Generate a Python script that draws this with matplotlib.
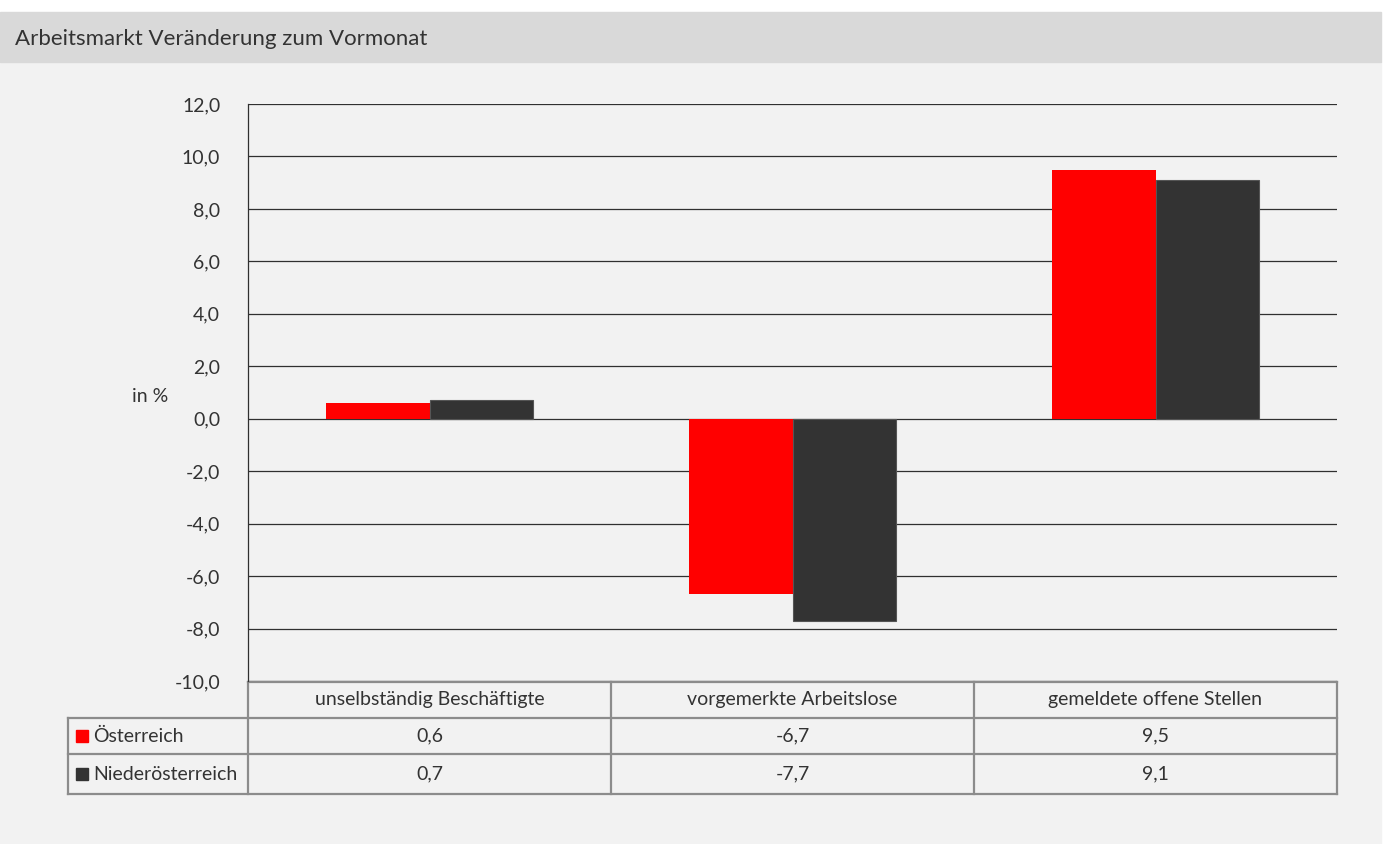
import numpy as np
import matplotlib.pyplot as plt
from matplotlib.patches import Rectangle

# ── Daten ─────────────────────────────────────────────────────────────
title = "Arbeitsmarkt Veränderung zum Vormonat"
categories = ["unselbständig Beschäftigte", "vorgemerkte Arbeitslose", "gemeldete offene Stellen"]
series_names = ["Österreich", "Niederösterreich"]
oesterreich = [0.6, -6.7, 9.5]
niederoesterreich = [0.7, -7.7, 9.1]
colors = ["#ff0000", "#333333"]
yticks = np.arange(-10, 12.1, 2)

W, H = 1383, 844
plt.rcParams.update({'font.family': ['Lato', 'DejaVu Sans'], 'font.size': 14})
txt = "#333333"

fig = plt.figure(figsize=(W / 100, H / 100), dpi=100)
fig.patch.set_facecolor("white")

# Hintergrund / Titelband in Pixelkoordinaten
bg = fig.add_axes([0, 0, 1, 1])
bg.set_xlim(0, W)
bg.set_ylim(H, 0)
bg.axis("off")
bg.add_patch(Rectangle((0, 62), W - 2, H - 62, color="#f2f2f2", zorder=0))
bg.add_patch(Rectangle((0, 12), W - 2, 50, color="#d9d9d9", zorder=0))
bg.text(15, 39, title, fontsize=16, color=txt, va="center", ha="left")
bg.text(150, 396, "in %", fontsize=14, color=txt, va="center", ha="center")

# ── Diagramm ─────────────────────────────────────────────────────────
x0, x1, ytop, ybot = 248, 1337, 104, 681
ax = fig.add_axes([x0 / W, 1 - ybot / H, (x1 - x0) / W, (ybot - ytop) / H])
ax.set_facecolor("none")
x = np.arange(len(categories))
w = 0.285
ax.bar(x - w / 2, oesterreich, w, color=colors[0], zorder=3)
ax.bar(x + w / 2, niederoesterreich, w, color=colors[1], edgecolor="#555555",
       linewidth=0.8, zorder=3)
ax.set_xlim(-0.5, len(categories) - 0.5)
ax.set_ylim(-10, 12)
ax.set_yticks(yticks)
ax.set_yticklabels([f"{v:.1f}".replace(".", ",") for v in yticks], color=txt)
ax.tick_params(axis="y", length=0, pad=20, labelsize=14)
ax.set_xticks([])
ax.grid(axis="y", color="#303030", linewidth=0.9, zorder=1)
for s in ["top", "right", "bottom"]:
    ax.spines[s].set_visible(False)
ax.spines["left"].set_color("#303030")
ax.spines["left"].set_linewidth(0.9)

# ── Datentabelle ──────────────────────────────────────────────────────
tc = "#8c8c8c"
lw = 1.6
col_w = (x1 - x0) / len(categories)
rows_y = [682, 718, 754, 794]
lx = 68
bg.plot([x0, x1], [rows_y[0], rows_y[0]], color=tc, lw=lw)
bg.plot([lx, x1], [rows_y[1], rows_y[1]], color=tc, lw=lw)
bg.plot([lx, x1], [rows_y[2], rows_y[2]], color=tc, lw=lw)
bg.plot([lx, x1], [rows_y[3], rows_y[3]], color=tc, lw=lw)
bg.plot([lx, lx], [rows_y[1], rows_y[3]], color=tc, lw=lw)
for i in range(len(categories) + 1):
    cx = x0 + i * col_w
    bg.plot([cx, cx], [rows_y[0], rows_y[3]], color=tc, lw=lw)
for i, cat in enumerate(categories):
    bg.text(x0 + (i + 0.5) * col_w, (rows_y[0] + rows_y[1]) / 2, cat,
            ha="center", va="center", fontsize=14, color=txt)
for r, (name, vals) in enumerate(zip(series_names, [oesterreich, niederoesterreich])):
    yc = (rows_y[r + 1] + rows_y[r + 2]) / 2
    bg.add_patch(Rectangle((76, yc - 6), 12, 12, color=colors[r]))
    bg.text(93, yc, name, ha="left", va="center", fontsize=14, color=txt)
    for i, v in enumerate(vals):
        bg.text(x0 + (i + 0.5) * col_w, yc, f"{v:.1f}".replace(".", ","),
                ha="center", va="center", fontsize=14, color=txt)

fig.savefig("out.png", dpi=100)
